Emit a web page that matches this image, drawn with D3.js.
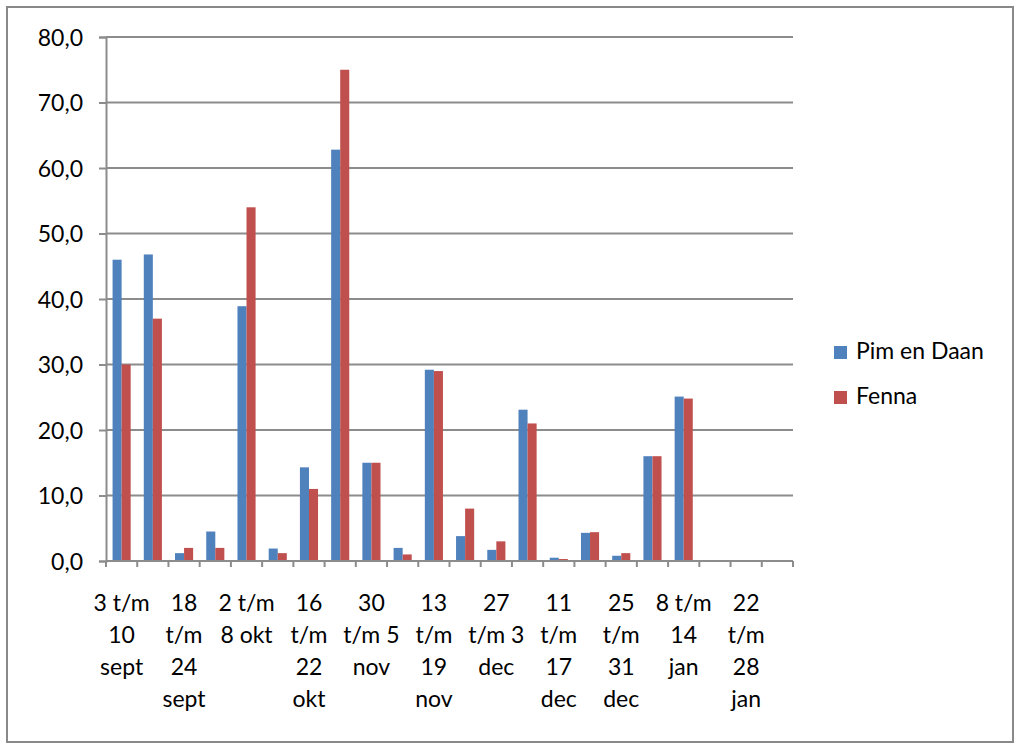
<!DOCTYPE html>
<html><head><meta charset="utf-8">
<script src="https://cdn.jsdelivr.net/npm/d3@7"></script>
<style>
html,body{margin:0;padding:0;background:#fff;}
svg{display:block;}
text{font-family:Lato,"Open Sans",sans-serif;fill:#000;}
</style></head>
<body>
<svg id="c" width="1024" height="754"></svg>
<script>
// ---- data ----
const categories = [
  "3 t/m 10 sept","11 t/m 17 sept","18 t/m 24 sept","25 sept t/m 1 okt",
  "2 t/m 8 okt","9 t/m 15 okt","16 t/m 22 okt","23 t/m 29 okt",
  "30 t/m 5 nov","6 t/m 12 nov","13 t/m 19 nov","20 t/m 26 nov",
  "27 t/m 3 dec","4 t/m 10 dec","11 t/m 17 dec","18 t/m 24 dec",
  "25 t/m 31 dec","1 t/m 7 jan","8 t/m 14 jan","15 t/m 21 jan",
  "22 t/m 28 jan","29 jan t/m 4 feb"
];
// wrapped label lines as shown on the axis (only every other category is shown)
const tickLabelLines = {
  "3 t/m 10 sept": ["3 t/m","10","sept"],
  "18 t/m 24 sept": ["18","t/m","24","sept"],
  "2 t/m 8 okt": ["2 t/m","8 okt"],
  "16 t/m 22 okt": ["16","t/m","22","okt"],
  "30 t/m 5 nov": ["30","t/m 5","nov"],
  "13 t/m 19 nov": ["13","t/m","19","nov"],
  "27 t/m 3 dec": ["27","t/m 3","dec"],
  "11 t/m 17 dec": ["11","t/m","17","dec"],
  "25 t/m 31 dec": ["25","t/m","31","dec"],
  "8 t/m 14 jan": ["8 t/m","14","jan"],
  "22 t/m 28 jan": ["22","t/m","28","jan"]
};
const seriesNames = ["Pim en Daan","Fenna"];
const pimEnDaan = [46.0,46.8,1.2,4.5,38.9,1.9,14.3,62.8,15.0,2.0,29.2,3.8,1.7,23.1,0.5,4.3,0.8,16.0,25.1,0,0,0];
const fenna     = [30.0,37.0,2.0,2.0,54.0,1.2,11.0,75.0,15.0,1.0,29.0,8.0,3.0,21.0,0.3,4.4,1.2,16.0,24.8,0,0,0];
const yTicks = [0,10,20,30,40,50,60,70,80];
const colors = ["#4F81BD","#C0504D"];

// ---- layout ----
const svg = d3.select("#c");
const L = 106, R = 793, T = 37, B = 561;
const FS = 23;

svg.append("rect").attr("x",7).attr("y",7).attr("width",1006).attr("height",735)
  .attr("fill","#fff").attr("stroke","#898989").attr("stroke-width",2);

const x = d3.scaleBand().domain(categories).range([L,R]).padding(0);
const xi = d3.scaleBand().domain(seriesNames).range([x.bandwidth()*0.21, x.bandwidth()*0.79]).padding(0);
const y = d3.scaleLinear().domain([0,80]).range([B,T]);

// gridlines
svg.append("g").selectAll("line").data(yTicks.filter(d=>d>0)).join("line")
  .attr("x1",L).attr("x2",R).attr("y1",d=>y(d)).attr("y2",d=>y(d))
  .attr("stroke","#8c8c8c").attr("stroke-width",2);

// y axis
const yAxis = d3.axisLeft(y).tickValues(yTicks).tickSize(7).tickPadding(16)
  .tickFormat(d=>d3.format(".1f")(d).replace(".",","));
const gy = svg.append("g").attr("transform",`translate(${L},0)`).call(yAxis);
gy.select(".domain").attr("stroke","#8c8c8c").attr("stroke-width",2);
gy.selectAll(".tick line").attr("stroke","#8c8c8c").attr("stroke-width",2);
gy.selectAll(".tick text").attr("font-size",FS).attr("font-family","Lato,sans-serif").attr("fill","#000").attr("dy","0.36em");

// bars
const rows = categories.map((c,i)=>({cat:c, vals:[pimEnDaan[i], fenna[i]]}));
const grp = svg.append("g").selectAll("g").data(rows).join("g")
  .attr("transform",d=>`translate(${x(d.cat)},0)`);
grp.selectAll("rect").data(d=>d.vals.map((v,k)=>({s:seriesNames[k],v,k}))).join("rect")
  .attr("x",d=>xi(d.s)).attr("width",xi.bandwidth())
  .attr("y",d=>y(d.v)).attr("height",d=>B-y(d.v))
  .attr("fill",d=>colors[d.k]);

// x axis line and boundary ticks
svg.append("line").attr("x1",L).attr("x2",R).attr("y1",B).attr("y2",B)
  .attr("stroke","#8c8c8c").attr("stroke-width",2);
const bounds = categories.map(c=>x(c)).concat([R]);
svg.append("g").selectAll("line").data(bounds).join("line")
  .attr("x1",d=>d).attr("x2",d=>d).attr("y1",B).attr("y2",B+6)
  .attr("stroke","#8c8c8c").attr("stroke-width",2);

// x labels
const lab = svg.append("g").selectAll("text")
  .data(categories.filter(c=>tickLabelLines[c])).join("text")
  .attr("text-anchor","middle").attr("font-size",FS)
  .attr("x",d=>x(d)+x.bandwidth()/2).attr("y",611);
lab.selectAll("tspan").data(d=>tickLabelLines[d].map(t=>({t,c:d}))).join("tspan")
  .attr("x",d=>x(d.c)+x.bandwidth()/2).attr("dy",(d,i)=>i===0?0:32).text(d=>d.t);

// legend
const lg = svg.append("g").selectAll("g").data(seriesNames).join("g")
  .attr("transform",(d,i)=>`translate(834,${346+i*45})`);
lg.append("rect").attr("width",13).attr("height",13).attr("fill",(d,i)=>colors[i]);
lg.append("text").attr("x",22).attr("y",13).attr("font-size",FS).text(d=>d);
</script>
</body></html>
